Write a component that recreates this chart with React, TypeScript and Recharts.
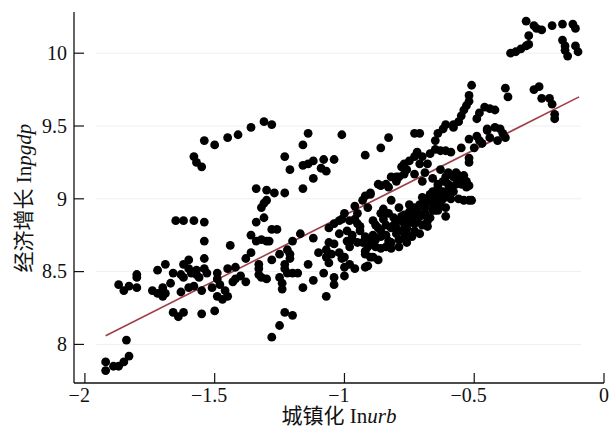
import React from 'react';
import { ScatterChart, Scatter, XAxis, YAxis, ReferenceLine } from 'recharts';

const xTicks = [-2, -1.5, -1, -0.5, 0];
const yTicks = [8, 8.5, 9, 9.5, 10];
const xTitleCn = '城镇化 ';
const xTitleLn = 'In';
const xTitleVar = 'urb';
const yTitleCn = '经济增长 ';
const yTitleLn = 'In';
const yTitleVar = 'pgdp';

// fitted regression line end points
const fitLine = [
  { x: -1.92, y: 8.06 },
  { x: -0.096, y: 9.7 },
];
// faint horizontal guide extent
const gridSpan = [-1.958, -0.088];

// [lnurb, lnpgdp]
const points: [number, number][] = [
  [-1.92,7.88],[-1.92,7.82],[-1.89,7.85],[-1.87,7.85],[-1.85,7.88],[-1.83,7.92],[-1.84,8.03],
  [-1.87,8.41],[-1.85,8.37],[-1.83,8.40],[-1.80,8.39],[-1.80,8.46],[-1.80,8.48],
  [-1.74,8.37],[-1.72,8.35],[-1.70,8.33],[-1.69,8.35],[-1.72,8.51],[-1.69,8.55],[-1.70,8.39],[-1.67,8.42],[-1.66,8.49],[-1.63,8.48],[-1.62,8.46],[-1.63,8.36],[-1.66,8.22],[-1.64,8.19],[-1.62,8.22],
  [-1.65,8.85],[-1.62,8.85],[-1.58,8.85],[-1.54,8.84],[-1.54,8.71],[-1.54,8.59],[-1.60,8.58],[-1.62,8.55],[-1.60,8.52],[-1.59,8.49],[-1.57,8.51],[-1.57,8.48],[-1.54,8.52],[-1.53,8.49],[-1.56,8.46],[-1.60,8.39],[-1.58,8.40],[-1.55,8.37],[-1.55,8.21],[-1.50,8.23],[-1.51,8.39],[-1.49,8.45],[-1.49,8.49],[-1.49,8.33],[-1.47,8.31],[-1.46,8.37],[-1.45,8.33],[-1.48,8.41],[-1.45,8.52],[-1.43,8.43],[-1.42,8.45],[-1.42,8.53],[-1.40,8.47],[-1.38,8.43],[-1.44,8.68],[-1.38,8.59],[-1.36,8.63],[-1.36,8.75],[-1.34,8.71],[-1.33,8.52],[-1.33,8.48],[-1.32,8.46],[-1.30,8.45],[-1.33,8.55],[-1.34,8.84],[-1.31,8.87],[-1.32,8.94],[-1.31,8.97],[-1.30,8.99],[-1.34,9.07],[-1.30,9.06],[-1.27,9.04],[-1.23,9.04],[-1.32,8.72],[-1.30,8.71],[-1.29,8.71],[-1.28,8.79],[-1.26,8.79],[-1.28,8.58],[-1.25,8.62],[-1.25,8.46],[-1.24,8.42],[-1.24,8.38],[-1.23,8.52],[-1.23,8.55],[-1.21,8.62],[-1.22,8.65],[-1.20,8.71],[-1.21,8.59],[-1.22,8.49],[-1.20,8.49],[-1.17,8.76],[-1.16,8.39],[-1.14,8.55],[-1.18,8.49],[-1.23,8.22],[-1.20,8.20],[-1.25,8.13],[-1.28,8.05],
  [-1.58,9.29],[-1.57,9.25],[-1.55,9.22],[-1.54,9.40],[-1.50,9.37],[-1.45,9.42],[-1.41,9.44],[-1.36,9.49],[-1.31,9.53],[-1.28,9.51],
  [-1.23,9.29],[-1.21,9.20],[-1.16,9.37],[-1.14,9.45],[-1.16,9.23],[-1.14,9.24],[-1.12,9.26],[-1.12,9.14],[-1.16,9.07],[-1.08,9.27],[-1.09,9.21],[-1.07,9.19],[-1.04,9.27],[-1.01,9.44],[-0.92,9.30],[-0.86,9.35],[-0.83,9.42],[-0.73,9.45],[-0.71,9.45],
  [-1.12,8.73],[-1.10,8.63],[-1.12,8.44],[-1.08,8.49],[-1.07,8.33],[-1.04,8.46],[-1.04,8.41],[-1.00,8.47],[-1.06,8.56],[-1.07,8.60],[-1.07,8.65],[-1.05,8.62],[-1.06,8.70],[-1.04,8.69],[-1.02,8.63],[-1.01,8.59],[-1.00,8.60],[-1.00,8.53],[-0.98,8.55],[-0.96,8.52],[-1.06,8.80],[-1.04,8.83],[-1.02,8.85],[-1.01,8.86],[-1.00,8.90],[-0.98,8.85],[-1.02,8.76],[-0.99,8.71],[-0.98,8.67],[-0.97,8.75],[-0.95,8.70],[-0.94,8.78],[-0.95,8.83],[-0.95,8.90],[-0.96,8.95],[-0.93,8.99],[-0.92,9.02],[-0.90,9.03],[-0.91,8.94],[-0.92,8.62],[-0.91,8.67],[-0.90,8.71],[-0.91,8.54],[-0.89,8.75],[-0.88,8.67],[-0.89,8.85],[-0.87,8.80],[-0.86,8.74],[-0.84,8.67],[-0.83,8.71],[-0.86,8.90],[-0.85,8.93],[-0.86,9.09],[-0.83,9.08],[-0.82,9.15],[-0.80,9.12],[-0.82,8.99],[-0.81,8.87],[-0.82,8.80],[-0.80,8.76],[-0.79,8.85],[-0.79,8.94],[-0.78,8.78],[-0.77,8.89],[-0.77,8.73],[-0.76,8.80],[-0.75,8.96],[-0.74,8.87],[-0.73,8.78],[-0.73,8.94],[-0.72,8.85],[-0.71,8.76],[-0.70,9.01],[-0.70,8.89],[-0.69,8.94],[-0.68,8.81],[-0.67,8.99],[-0.67,8.87],[-0.66,8.96],[-0.65,8.92],[-0.64,9.03],[-0.64,9.08],[-0.63,8.99],[-0.62,9.12],[-0.61,8.94],[-0.61,9.15],[-0.60,9.06],[-0.59,9.00],[-0.58,9.15],[-0.56,9.12],[-0.55,9.10],[-0.53,9.08],[-0.52,9.09],[-0.56,9.00],[-0.54,8.99],[-0.52,8.99],[-0.51,8.99],[-0.61,8.88],[-0.64,8.92],[-0.68,8.85],[-0.73,8.83],[-0.70,8.82],[-0.76,8.76],[-0.82,8.66],[-0.79,8.67],[-0.86,8.66],[-0.89,8.60],
  [-0.84,8.82],[-0.82,8.70],[-0.79,8.72],[-0.77,8.83],[-0.75,8.91],[-0.73,8.90],[-0.71,8.88],[-0.69,8.97],[-0.67,9.02],[-0.66,8.92],[-0.63,8.96],[-0.62,9.00],[-0.60,9.03],[-0.58,9.05],[-0.64,9.10],[-0.60,9.10],[-0.57,9.18],[-0.60,9.18],[-0.58,9.16],[-0.55,9.14],[-0.53,9.12],[-0.86,8.78],[-0.88,8.72],[-0.92,8.74],[-0.94,8.81],[-0.96,8.86],[-0.97,8.72],[-0.99,8.78],[-0.92,8.64],[-0.90,8.60],[-0.87,8.58],[-0.90,9.04],[-0.87,9.10],[-0.84,9.10],[-0.80,9.15],[-0.70,9.12],[-0.66,9.14],[-0.63,9.20],[-0.69,9.18],[-0.67,9.03],[-0.92,8.53],
  [-0.85,8.86],[-0.83,8.90],[-0.81,8.82],[-0.78,8.88],[-0.76,8.86],[-0.74,8.84],[-0.72,8.92],[-0.71,8.96],[-0.69,8.90],[-0.68,9.00],[-0.66,9.05],[-0.65,9.00],[-0.62,9.05],[-0.59,9.08],[-0.57,9.10],[-0.56,9.16],[-0.54,9.16],[-0.88,8.82],[-0.93,8.70],[-0.84,8.75],[-0.80,8.80],[-0.76,8.70],[-0.74,8.74],
  [-0.79,9.15],[-0.77,9.17],[-0.78,9.22],[-0.77,9.24],[-0.75,9.26],[-0.76,9.20],[-0.73,9.29],[-0.73,9.17],[-0.72,9.32],[-0.71,9.24],[-0.70,9.29],[-0.68,9.24],[-0.67,9.31],[-0.65,9.34],[-0.65,9.40],[-0.64,9.45],[-0.62,9.48],[-0.61,9.51],[-0.58,9.51],[-0.58,9.49],[-0.56,9.53],[-0.55,9.57],[-0.54,9.61],[-0.53,9.64],[-0.52,9.67],[-0.52,9.71],[-0.51,9.78],[-0.63,9.33],[-0.61,9.33],[-0.59,9.32],[-0.55,9.35],[-0.52,9.41],[-0.49,9.43],[-0.48,9.40],[-0.50,9.35],[-0.52,9.28],[-0.52,9.25],[-0.49,9.55],[-0.48,9.59],[-0.46,9.63],[-0.44,9.62],[-0.42,9.61],[-0.45,9.47],[-0.44,9.42],[-0.45,9.48],[-0.42,9.49],[-0.40,9.48],[-0.39,9.45],[-0.38,9.42],[-0.41,9.40],[-0.38,9.76],[-0.37,9.70],[-0.47,9.38],
  [-0.36,10.00],[-0.34,10.01],[-0.32,10.03],[-0.30,10.05],[-0.29,10.06],[-0.30,10.22],[-0.27,10.19],[-0.26,10.17],[-0.24,10.16],[-0.29,10.12],[-0.20,10.19],[-0.16,10.20],[-0.12,10.20],[-0.11,10.17],[-0.16,10.09],[-0.15,10.05],[-0.15,10.02],[-0.14,9.98],[-0.11,10.05],[-0.10,10.01],[-0.27,9.75],[-0.25,9.77],[-0.24,9.69],[-0.21,9.69],[-0.20,9.65],[-0.19,9.58],[-0.19,9.55],
];

const data = points.map(([x, y]) => ({ x, y }));

const W = 611;
const H = 435;
const FONT = "'Liberation Serif', 'Times New Roman', 'Noto Sans CJK SC', serif";
const TICK_FS = 20;
const TITLE_FS = 21;
const PLOT_LEFT = 74;
const PLOT_BOTTOM = 383;
const TICK_LEN = 10;

const fmtX = (v: number) => (v < 0 ? '\u2212' + String(Math.abs(v)) : String(v));

const XTick = (props: any) => {
  const { x, y, payload } = props;
  const v = payload.value as number;
  const shift = v < 0 ? -0.564 * TICK_FS / 2 : 0;
  return (
    <g>
      <line x1={x} x2={x} y1={PLOT_BOTTOM} y2={PLOT_BOTTOM - TICK_LEN} stroke="#111" strokeWidth={1.2} />
      <text x={x + shift} y={y + 5} dy="0.71em" textAnchor="middle" fontFamily={FONT} fontSize={TICK_FS} fill="#111">
        {fmtX(v)}
      </text>
    </g>
  );
};

const YTick = (props: any) => {
  const { x, y, payload } = props;
  return (
    <g>
      <line x1={PLOT_LEFT} x2={PLOT_LEFT + TICK_LEN} y1={y} y2={y} stroke="#111" strokeWidth={1.2} />
      <text x={x - 7} y={y} dy="0.34em" textAnchor="end" fontFamily={FONT} fontSize={TICK_FS} fill="#111">
        {String(payload.value)}
      </text>
    </g>
  );
};

const Dot = (props: any) => {
  const { cx, cy } = props;
  if (cx == null || cy == null) return null;
  return <circle cx={cx} cy={cy} r={4.4} fill="#000" />;
};

export default function App() {
  return (
    <div style={{ position: 'absolute', left: 0, top: 0, width: W, height: H, background: '#fff' }}>
      <ScatterChart width={W} height={H} margin={{ top: 12, right: 7, bottom: 0, left: 0 }}>
        <XAxis
          type="number"
          dataKey="x"
          domain={[-2.042, 0]}
          ticks={xTicks}
          allowDataOverflow
          height={52}
          tickSize={0}
          tickMargin={0}
          tickLine={false}
          tick={<XTick />}
          axisLine={{ stroke: '#111', strokeWidth: 1.3 }}
          interval={0}
        />
        <YAxis
          type="number"
          dataKey="y"
          domain={[7.735, 10.283]}
          ticks={yTicks}
          allowDataOverflow
          width={74}
          tickSize={0}
          tickMargin={0}
          tickLine={false}
          tick={<YTick />}
          axisLine={{ stroke: '#111', strokeWidth: 1.3 }}
          interval={0}
        />
        {yTicks.map((t) => (
          <ReferenceLine
            key={'g' + t}
            segment={[{ x: gridSpan[0], y: t }, { x: gridSpan[1], y: t }]}
            stroke="#efefef"
            strokeWidth={1}
          />
        ))}
        <Scatter data={data} shape={<Dot />} isAnimationActive={false} />
        <ReferenceLine
          segment={[{ x: fitLine[0].x, y: fitLine[0].y }, { x: fitLine[1].x, y: fitLine[1].y }]}
          stroke="#9e3f49"
          strokeWidth={1.6}
        />
      </ScatterChart>
      <svg width={W} height={H} style={{ position: 'absolute', left: 0, top: 0, pointerEvents: 'none' }}>
        <text x={339} y={416} dominantBaseline="central" textAnchor="middle" fontFamily={FONT} fontSize={TITLE_FS} fill="#111">
          {xTitleCn}{xTitleLn}<tspan fontStyle="italic">{xTitleVar}</tspan>
        </text>
        <text
          x={0}
          y={0}
          transform={`translate(24, 198) rotate(-90)`}
          dominantBaseline="central"
          textAnchor="middle"
          fontFamily={FONT}
          fontSize={TITLE_FS}
          fill="#111"
        >
          {yTitleCn}{yTitleLn}<tspan fontStyle="italic">{yTitleVar}</tspan>
        </text>
      </svg>
    </div>
  );
}
